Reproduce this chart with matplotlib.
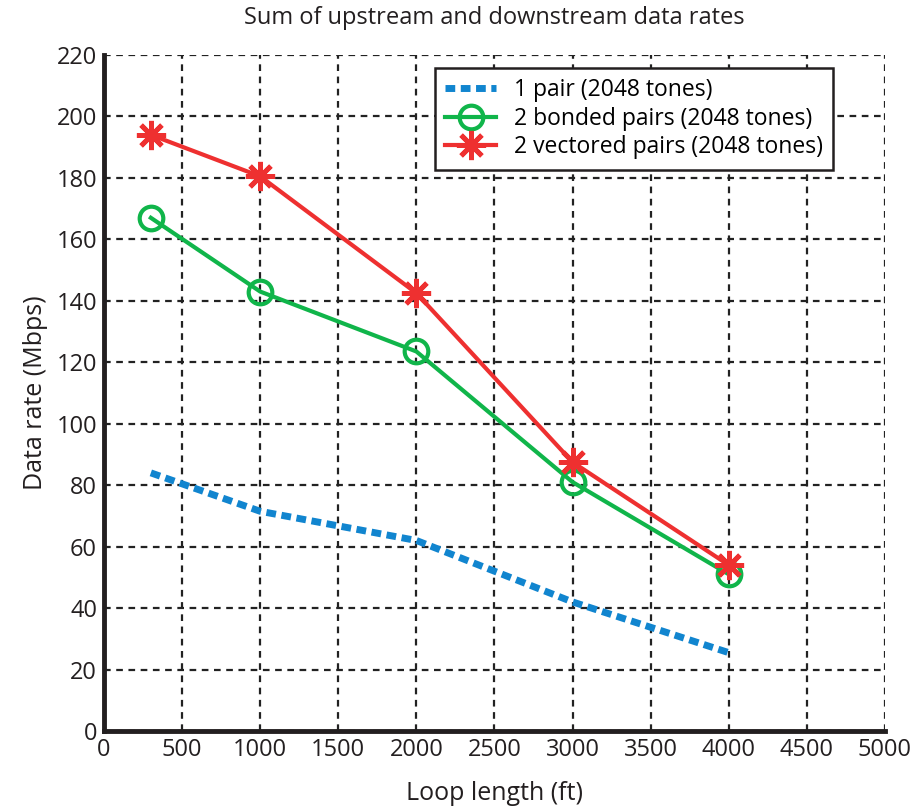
import matplotlib.pyplot as plt
import numpy as np

plt.rcParams['font.family'] = ['Open Sans', 'DejaVu Sans']

loop_ft = [300, 1000, 2000, 3000, 4000]
one_pair = [84, 71.5, 62, 42, 25.5]
bonded = [167, 143, 123.5, 81, 51]
vectored = [194, 180.5, 142.5, 87.5, 54]

x_ticks = np.arange(0, 5001, 500)
y_ticks = np.arange(0, 221, 20)

fig = plt.figure(figsize=(9.17, 8.08), dpi=100)
ax = fig.add_axes([0.1134, 0.0953, 0.8516, 0.8367])

ax.plot(loop_ft, one_pair, color='#1185cf', lw=5, ls=(0, (1.4, 0.8)),
        label='1 pair (2048 tones)')
ax.plot(loop_ft, bonded, color='#10b54a', lw=3, marker='o', ms=17,
        mfc='none', mew=3, label='2 bonded pairs (2048 tones)')
ax.plot(loop_ft, vectored, color='#ee3030', lw=3, marker=(8, 2, 0), ms=21,
        mew=3.5, label='2 vectored pairs (2048 tones)')

ax.set_xlim(0, 5000)
ax.set_ylim(0, 220)
ax.set_xticks(x_ticks)
ax.set_yticks(y_ticks)
ax.grid(True, color='#222222', ls=(0, (3, 2.5)), lw=1.6)
ax.set_axisbelow(True)

for s in ['top', 'right']:
    ax.spines[s].set_visible(False)
for s in ['left', 'bottom']:
    ax.spines[s].set_linewidth(3.5)
    ax.spines[s].set_color('#231f20')
ax.tick_params(length=0, labelsize=17, colors='#231f20', pad=5)

ax.set_xlabel('Loop length (ft)', fontsize=18, color='#231f20', labelpad=14)
ax.set_ylabel('Data rate (Mbps)', fontsize=18, color='#231f20', labelpad=6)
ax.set_title('Sum of upstream and downstream data rates', fontsize=17,
             color='#231f20', pad=22)

leg = ax.legend(loc='upper left', bbox_to_anchor=(0.424, 0.981), fontsize=16.5,
                frameon=True, fancybox=False, edgecolor='#231f20',
                framealpha=1, borderpad=0.45, labelspacing=0.2,
                handlelength=2.2, borderaxespad=0)
leg.get_frame().set_linewidth(1.8)

fig.savefig('out.png', dpi=100)
